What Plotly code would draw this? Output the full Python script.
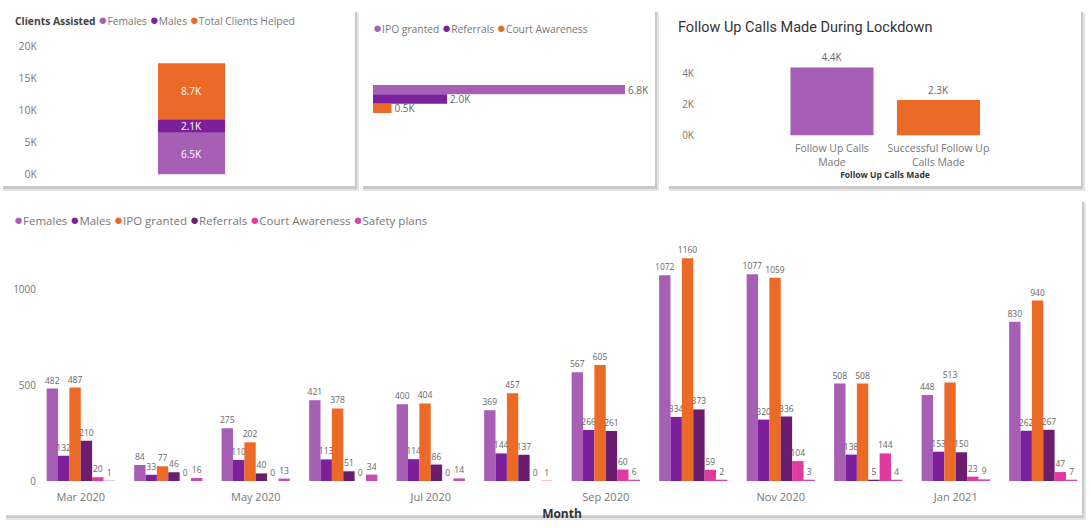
import plotly.graph_objects as go

W, H = 1091, 528

# ---------------- data ----------------
months = ["Mar 2020", "Apr 2020", "May 2020", "Jun 2020", "Jul 2020", "Aug 2020",
          "Sep 2020", "Oct 2020", "Nov 2020", "Dec 2020", "Jan 2021", "Feb 2021"]
month_ticks = ["Mar 2020", "May 2020", "Jul 2020", "Sep 2020", "Nov 2020", "Jan 2021"]
females = [482, 84, 275, 421, 400, 369, 567, 1072, 1077, 508, 448, 830]
males = [132, 33, 110, 113, 114, 144, 266, 334, 320, 138, 153, 262]
ipo_granted = [487, 77, 202, 378, 404, 457, 605, 1160, 1059, 508, 513, 940]
referrals = [210, 46, 40, 51, 86, 137, 261, 373, 336, 5, 150, 267]
court_awareness = [20, 0, 0, 0, 0, 0, 60, 59, 104, 144, 23, 47]
safety_plans = [1, 16, 13, 34, 14, 1, 6, 2, 3, 4, 9, 7]

clients_cats = ["Females", "Males", "Total Clients Helped"]
clients_vals_k = [6.5, 2.1, 8.7]
clients_ticks_k = [0, 5, 10, 15, 20]

outcome_cats = ["IPO granted", "Referrals", "Court Awareness"]
outcome_vals_k = [6.8, 2.0, 0.5]

call_cats = ["Follow Up Calls Made", "Successful Follow Up Calls Made"]
call_tick_labels = ["Follow Up Calls<br>Made", "Successful Follow Up<br>Calls Made"]
call_vals_k = [4.4, 2.3]
call_ticks_k = [0, 2, 4]

# ---------------- styles ----------------
C_FEM = "#a65fb5"
C_MAL = "#7c1f9c"
C_ORA = "#ec6a28"
C_REF = "#6b1d6f"
C_CRT = "#e03aa0"
C_SAF = "#c84bb6"
FONT = "Open Sans"
GRAY = "#777777"


def fx(p):
    return p / W


def fy(p):
    return 1 - p / H


fig = go.Figure()

# ---- bottom grouped chart ----
series = [("Females", females, C_FEM), ("Males", males, C_MAL),
          ("IPO granted", ipo_granted, C_ORA), ("Referrals", referrals, C_REF),
          ("Court Awareness", court_awareness, C_CRT), ("Safety plans", safety_plans, C_SAF)]
for name, vals, col in series:
    fig.add_trace(go.Bar(
        x=months, y=vals, name=name, marker=dict(color=col, line=dict(width=0)),
        text=vals, textposition="outside", textangle=0, constraintext="none",
        cliponaxis=False, textfont=dict(size=8.5, color="#666666", family=FONT),
        xaxis="x", yaxis="y", showlegend=False))

# ---- panel 1: stacked clients ----
base = 0.0
for cat, v, col in zip(clients_cats, clients_vals_k, [C_FEM, C_MAL, C_ORA]):
    fig.add_trace(go.Bar(
        x=[0], y=[v], base=[base], name=cat, offsetgroup="clients",
        marker=dict(color=col, line=dict(width=0)),
        text=[f"{v:.1f}K"], texttemplate="%{text}", textposition="inside",
        insidetextanchor="middle", constraintext="none", textangle=0,
        textfont=dict(size=10, color="white", family=FONT),
        xaxis="x2", yaxis="y2", showlegend=False))
    base += v

# ---- panel 2: horizontal outcomes ----
for cat, v, col in zip(outcome_cats, outcome_vals_k, [C_FEM, C_MAL, C_ORA]):
    fig.add_trace(go.Bar(
        x=[v], y=[0], orientation="h", name=cat,
        marker=dict(color=col, line=dict(width=0)),
        text=[f"{v:.1f}K"], texttemplate="%{text}", textposition="outside",
        constraintext="none", cliponaxis=False, textangle=0,
        textfont=dict(size=10, color="#666666", family=FONT),
        xaxis="x3", yaxis="y3", showlegend=False))

# ---- panel 3: follow up calls ----
fig.add_trace(go.Bar(
    x=call_cats, y=call_vals_k, marker=dict(color=[C_FEM, C_ORA], line=dict(width=0)),
    text=[f"{v:.1f}K" for v in call_vals_k], texttemplate="%{text}",
    textposition="outside", constraintext="none", cliponaxis=False, textangle=0,
    textfont=dict(size=10, color="#666666", family=FONT),
    xaxis="x4", yaxis="y4", showlegend=False))

# ---------------- panels (cards) ----------------
panels = [(2, 4, 355, 184), (362, 4, 655, 184), (668, 4, 1081, 184), (5, 199, 1082, 522)]
shapes = []
for x0, y0, x1, y1 in panels:
    shapes.append(dict(type="rect", xref="paper", yref="paper", layer="below",
                       x0=fx(x0 + 1), x1=fx(x1 + 4), y0=fy(y1 + 5), y1=fy(y0 + 2),
                       fillcolor="#e4e4e4", line=dict(width=0)))
    shapes.append(dict(type="rect", xref="paper", yref="paper", layer="below",
                       x0=fx(x0 + 1), x1=fx(x1 + 2), y0=fy(y1 + 3), y1=fy(y0 + 1),
                       fillcolor="#c9c9c9", line=dict(width=0)))
    shapes.append(dict(type="rect", xref="paper", yref="paper", layer="below",
                       x0=fx(x0), x1=fx(x1), y0=fy(y1), y1=fy(y0),
                       fillcolor="white", line=dict(width=0)))


def dot(col):
    return f'<span style="color:{col};font-size:15px">●</span>'


annotations = [
    dict(text='<span style="color:#444444"><b>Clients Assisted</b></span> '
              + dot(C_FEM) + "Females " + dot(C_MAL) + "Males " + dot(C_ORA) + "Total Clients Helped",
         x=fx(13), y=fy(12), xanchor="left", yanchor="middle", showarrow=False,
         font=dict(size=10.3, color=GRAY, family=FONT), xref="paper", yref="paper"),
    dict(text=dot(C_FEM) + "IPO granted " + dot(C_MAL) + "Referrals " + dot(C_ORA) + "Court Awareness",
         x=fx(371), y=fy(21), xanchor="left", yanchor="middle", showarrow=False,
         font=dict(size=10.3, color=GRAY, family=FONT), xref="paper", yref="paper"),
    dict(text="Follow Up Calls Made During Lockdown",
         x=fx(676), y=fy(21), xanchor="left", yanchor="middle", showarrow=False,
         font=dict(size=14.5, color="#333333", family="Roboto"), xref="paper", yref="paper"),
    dict(text=dot(C_FEM) + "Females " + dot(C_MAL) + "Males " + dot(C_ORA) + "IPO granted "
              + dot(C_REF) + "Referrals " + dot(C_CRT) + "Court Awareness " + dot(C_SAF) + "Safety plans",
         x=fx(12), y=fy(218), xanchor="left", yanchor="middle", showarrow=False,
         font=dict(size=11.5, color=GRAY, family=FONT), xref="paper", yref="paper"),
]

tickfont = dict(size=10.5, color=GRAY, family=FONT)

fig.update_layout(
    width=W, height=H, margin=dict(l=0, r=0, t=0, b=0),
    paper_bgcolor="white", plot_bgcolor="rgba(0,0,0,0)",
    barmode="group", bargap=0.22, bargroupgap=0,
    shapes=shapes, annotations=annotations,
    font=dict(family=FONT),
    # bottom chart
    xaxis=dict(domain=[fx(37), fx(1087)], type="category", categoryorder="array",
               categoryarray=months, tickvals=month_ticks, ticktext=month_ticks,
               tickfont=dict(size=11, color=GRAY, family=FONT), showgrid=False,
               showline=False, zeroline=False, ticks="", ticklabelstandoff=8,
               title=dict(text="<b>Month</b>", font=dict(size=12, color="#333333", family=FONT),
                          standoff=6)),
    yaxis=dict(domain=[fy(487), fy(237)], range=[0, 1267], tickvals=[0, 500, 1000],
               tickfont=dict(size=10, color=GRAY, family=FONT), showgrid=False,
               zeroline=False, showline=False, ticks="", anchor="x"),
    # panel 1
    xaxis2=dict(domain=[fx(38), fx(350)], range=[-1.785, 1.843], visible=False, anchor="y2"),
    yaxis2=dict(domain=[fy(172), fy(40)], range=[0, 20], tickvals=clients_ticks_k,
                ticktext=[f"{t}K" for t in clients_ticks_k], tickfont=tickfont,
                showgrid=False, zeroline=False, showline=False, ticks="", anchor="x2"),
    # panel 2
    xaxis3=dict(domain=[fx(373), fx(655)], range=[0, 7.61], visible=False, anchor="y3"),
    yaxis3=dict(domain=[fy(146), fy(56)], range=[1.392, -1.04], visible=False, anchor="x3"),
    # panel 3
    xaxis4=dict(domain=[fx(695), fx(1075)], type="category", categoryorder="array",
                categoryarray=call_cats, range=[-1.286, 2.282],
                tickvals=call_cats, ticktext=call_tick_labels,
                tickfont=dict(size=10.5, color=GRAY, family=FONT), showgrid=False,
                showline=False, zeroline=False, ticks="", anchor="y4", ticklabelstandoff=5,
                title=dict(text="<b>Follow Up Calls Made</b>",
                           font=dict(size=8.5, color="#333333", family=FONT), standoff=3)),
    yaxis4=dict(domain=[fy(132), fy(45)], range=[0, 5.47], tickvals=call_ticks_k,
                ticktext=[f"{t}K" for t in call_ticks_k],
                tickfont=dict(size=10, color=GRAY, family=FONT),
                showgrid=False, zeroline=False, showline=False, ticks="", anchor="x4"),
)

fig.write_html("out.html")
